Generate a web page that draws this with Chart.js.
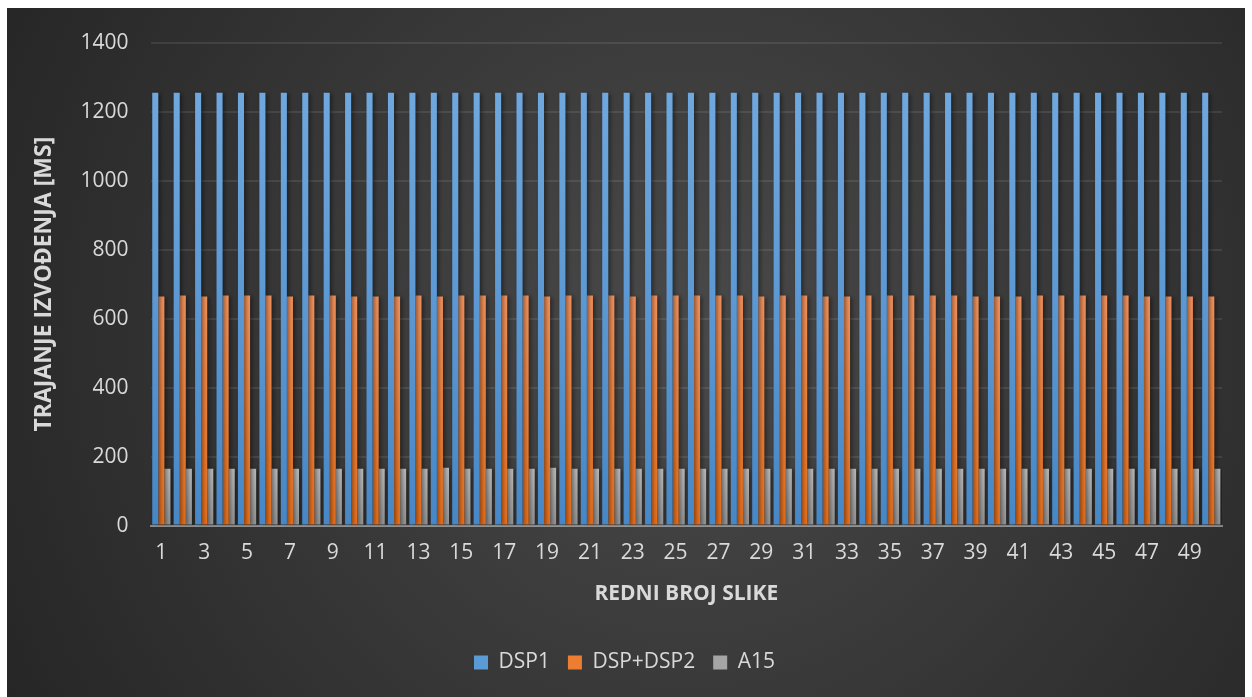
<!DOCTYPE html>
<html>
<head>
<meta charset="utf-8">
<script src="https://cdn.jsdelivr.net/npm/chart.js@4.4.1/dist/chart.umd.min.js"></script>
<style>
    html, body { margin: 0; padding: 0; background: #ffffff; }
    #wrap { position: absolute; left: 7px; top: 8px; width: 1238px; height: 689px; }
</style>
</head>
<body>
<div id="wrap"><canvas id="chart"></canvas></div>
<script>
// --- data ---
const categories = ['1','2','3','4','5','6','7','8','9','10','11','12','13','14','15','16','17','18','19','20',
    '21','22','23','24','25','26','27','28','29','30','31','32','33','34','35','36','37','38','39','40',
    '41','42','43','44','45','46','47','48','49','50'];
const dsp1 = [1255,1255,1255,1255,1255,1255,1255,1255,1255,1255,1255,1255,1255,1255,1255,1255,1255,1255,1255,1255,
    1255,1255,1255,1255,1255,1255,1255,1255,1255,1255,1255,1255,1255,1255,1255,1255,1255,1255,1255,1255,
    1255,1255,1255,1255,1255,1255,1255,1255,1255,1255];
const dspDsp2 = [664,667,664,667,667,667,664,667,667,664,664,664,667,664,667,667,667,667,664,667,
    667,667,664,667,667,667,667,667,664,667,667,664,664,667,667,667,667,667,664,664,
    664,667,667,667,667,667,664,664,664,664];
const a15 = [165,165,165,165,165,165,165,165,165,165,165,165,165,168,165,165,165,165,168,165,
    165,165,165,165,165,165,165,165,165,165,165,165,165,165,165,165,165,165,165,165,
    165,165,165,165,165,165,165,165,165,165];
const yTicks = [0, 200, 400, 600, 800, 1000, 1200, 1400];

const textColor = '#d9d9d9';
const fontFamily = "'Open Sans', 'Noto Sans', sans-serif";

// vertical gradient from the top of the tallest bar down to the axis
function barGradient(top, bottom) {
    return (context) => {
        const chart = context.chart;
        const area = chart.chartArea;
        if (!area) return bottom;
        const values = chart.data.datasets[context.datasetIndex].data;
        const y0 = chart.scales.y.getPixelForValue(Math.max(...values));
        const g = chart.ctx.createLinearGradient(0, y0, 0, area.bottom);
        g.addColorStop(0, top);
        g.addColorStop(1, bottom);
        return g;
    };
}

const backgroundPlugin = {
    id: 'darkBackground',
    beforeDraw(chart) {
        const { ctx, width, height } = chart;
        ctx.save();
        const g = ctx.createRadialGradient(width * 0.55, height * 0.48, 0, width * 0.55, height * 0.48, width * 0.62);
        g.addColorStop(0, '#4a4a4a');
        g.addColorStop(1, '#262626');
        ctx.fillStyle = g;
        ctx.fillRect(0, 0, width, height);
        ctx.restore();
    }
};

const shadowPlugin = {
    id: 'barShadow',
    beforeDatasetsDraw(chart) {
        const ctx = chart.ctx;
        ctx.save();
        ctx.shadowColor = 'rgba(0,0,0,0.45)';
        ctx.shadowBlur = 4;
        ctx.shadowOffsetX = 2;
        ctx.shadowOffsetY = 1;
    },
    afterDatasetsDraw(chart) {
        chart.ctx.restore();
    }
};

new Chart(document.getElementById('chart').getContext('2d'), {
    type: 'bar',
    data: {
        labels: categories,
        datasets: [
            { label: 'DSP1', data: dsp1, backgroundColor: barGradient('#6fa8df', '#4787c6'), borderWidth: 0 },
            { label: 'DSP+DSP2', data: dspDsp2, backgroundColor: barGradient('#f3925c', '#e86f1a'), borderWidth: 0 },
            { label: 'A15', data: a15, backgroundColor: barGradient('#bababa', '#939393'), borderWidth: 0 }
        ]
    },
    options: {
        responsive: true,
        maintainAspectRatio: false,
        animation: false,
        datasets: { bar: { categoryPercentage: 0.85, barPercentage: 1.0 } },
        layout: { autoPadding: false, padding: { top: 27, right: 23, bottom: 14, left: 20 } },
        scales: {
            x: {
                grid: { display: false, drawTicks: false },
                border: { color: 'rgba(200,200,200,0.55)', width: 2 },
                ticks: {
                    color: textColor,
                    font: { family: fontFamily, size: 21 },
                    padding: 15,
                    autoSkip: false,
                    maxRotation: 0,
                    callback: (value, index) => (index % 2 === 0 ? categories[index] : '')
                },
                title: {
                    display: true,
                    text: 'REDNI BROJ SLIKE',
                    color: textColor,
                    font: { family: fontFamily, size: 21, weight: 'bold' },
                    padding: { top: 1, bottom: 27 }
                }
            },
            y: {
                min: 0,
                max: 1400,
                afterBuildTicks: (axis) => { axis.ticks = yTicks.map(v => ({ value: v })); },
                grid: { color: 'rgba(255,255,255,0.09)', lineWidth: 2, drawTicks: false },
                border: { display: false },
                ticks: {
                    color: textColor,
                    font: { family: fontFamily, size: 21 },
                    padding: 22,
                    callback: (value) => String(value)
                },
                title: {
                    display: true,
                    text: 'TRAJANJE IZVOĐENJA [MS]',
                    color: textColor,
                    font: { family: fontFamily, size: 23, weight: 'bold' },
                    padding: { top: 4, bottom: 0 }
                }
            }
        },
        plugins: {
            legend: {
                position: 'bottom',
                labels: {
                    color: textColor,
                    font: { family: fontFamily, size: 21 },
                    boxWidth: 14,
                    boxHeight: 14,
                    padding: 18,
                    generateLabels: (chart) => {
                        const solid = ['#5b9bd5', '#ed7d31', '#a5a5a5'];
                        return chart.data.datasets.map((ds, i) => ({
                            text: ds.label,
                            fillStyle: solid[i],
                            strokeStyle: solid[i],
                            lineWidth: 0,
                            fontColor: textColor,
                            datasetIndex: i
                        }));
                    }
                }
            },
            tooltip: { enabled: false }
        }
    },
    plugins: [backgroundPlugin, shadowPlugin]
});
</script>
</body>
</html>
